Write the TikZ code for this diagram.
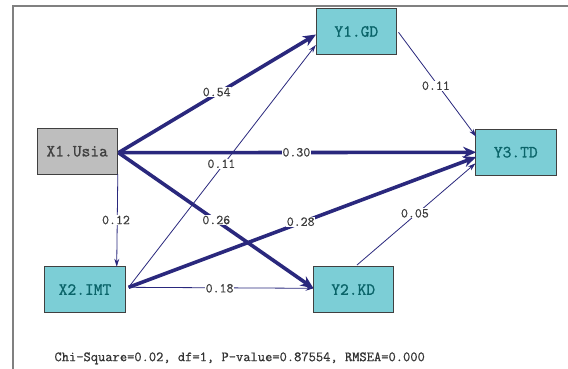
\documentclass[tikz,border=0pt]{standalone}
\usepackage{fontspec}
\newfontfamily\boxfont[FakeBold=1.2]{Latin Modern Mono}
\newfontfamily\labfont[FakeBold=0.6]{Latin Modern Mono}
\usetikzlibrary{arrows.meta}
\definecolor{navy}{RGB}{42,40,125}
\definecolor{boxfill}{RGB}{124,206,214}
\definecolor{boxtext}{RGB}{10,100,105}
\definecolor{grayfill}{RGB}{190,190,190}
\definecolor{framegray}{RGB}{128,128,128}
\definecolor{labgray}{RGB}{60,60,60}
\tikzset{
  var/.style={draw=black!75, line width=0.9pt, minimum width=80.5pt, minimum height=45.6pt, inner sep=0pt, font=\boxfont\fontsize{17}{19}\selectfont},
  endo/.style={var, fill=boxfill, text=boxtext},
  exo/.style={var, fill=grayfill, text=black!75},
  thick path/.style={draw=navy, line width=3.6pt, -{Stealth[length=13pt,width=11pt]}},
  thin path/.style={draw=navy, line width=0.8pt, -{Stealth[length=8pt,width=5pt]}},
  coef/.style={fill=white, inner sep=0.8pt, text=labgray, font=\labfont\fontsize{13.5}{15}\selectfont},
}
\begin{document}
\begin{tikzpicture}[x=1pt,y=-1pt]
\useasboundingbox (0,0) rectangle (568,368);
\fill[white] (0,0) rectangle (568,368);
\draw[framegray, line width=1.3pt] (13,372) -- (13,6) -- (572,6);
\node[exo]  (X1) at (77.2,151.2) {X1.Usia};
\node[endo] (Y1) at (356.3,31.5) {Y1.GD};
\node[endo] (Y3) at (515.8,152.2) {Y3.TD};
\node[endo] (X2) at (85,289.5) {X2.IMT};
\node[endo] (Y2) at (353.2,289.5) {Y2.KD};
\coordinate (x1r) at (118.5,152.7);
\coordinate (x1b) at (117.8,174);
\coordinate (x2t) at (116.7,266.7);
\coordinate (x2r) at (128.6,287.3);
\coordinate (y1l) at (316,34.5);
\coordinate (y1l2) at (315.8,45);
\coordinate (y1r) at (398.5,32.3);
\coordinate (y3a) at (476.2,136.7);
\coordinate (y3b) at (476.2,152.3);
\coordinate (y3c) at (476.2,157);
\coordinate (y3d) at (475.5,163.3);
\coordinate (y2l) at (313.5,288.3);
\coordinate (y2l2) at (313.5,288.3);
\coordinate (y2t) at (357,265);
% thin paths first
\draw[thin path] (x2r) -- (y1l2);
\draw[thin path] (x1b) -- (x2t);
\draw[thin path] (x2r) -- (y2l2);
\draw[thin path] (y1r) -- (y3a);
\draw[thin path] (y2t) -- (y3d);
% thick paths
\draw[thick path] (x1r) -- (y1l);
\draw[thick path] (x1r) -- (y3b);
\draw[thick path] (x1r) -- (y2l);
\draw[thick path] (x2r) -- (y3c);
% coefficient labels
\node[coef] (l54) at (216.7,92) {0.54};
\node[coef] (l30) at (296.4,152.3) {0.30};
\node[coef] (l26) at (216.3,220) {0.26};
\node[coef] (l12) at (116,220) {0.12};
\node[coef] (l11a) at (221.4,163.8) {0.11};
\node[coef] (l28) at (300.7,221.7) {0.28};
\node[coef] (l18) at (219.6,288.3) {0.18};
\node[coef] (l11b) at (435.9,85.7) {0.11};
\node[coef] (l05) at (414.9,213.3) {0.05};
\node[anchor=west, inner sep=0pt, text=black!80, font=\labfont\fontsize{14.1}{16}\selectfont] (fit) at (54.3,358.3) {Chi-Square=0.02, df=1, P-value=0.87554, RMSEA=0.000};
\end{tikzpicture}
\end{document}
